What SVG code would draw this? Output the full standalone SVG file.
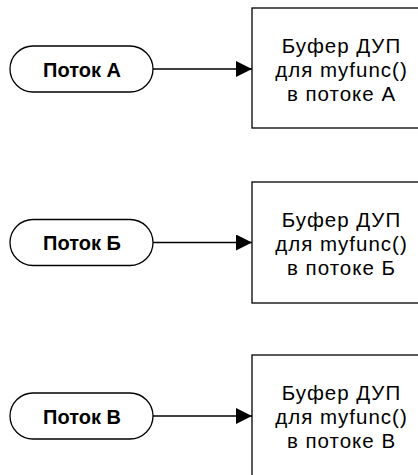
<svg xmlns="http://www.w3.org/2000/svg" width="418" height="475" viewBox="0 0 418 475">
<style>
.pill{fill:#fff;stroke:#000;stroke-width:1.3}
.box{fill:#fff;stroke:#000;stroke-width:1.3}
.lbl{font-family:"Liberation Sans",Arial,sans-serif;font-size:20px;font-weight:bold;text-anchor:middle;fill:#000}
.txt{font-family:"Liberation Sans",Arial,sans-serif;font-size:20.5px;letter-spacing:1px;text-anchor:middle;fill:#000}
.conn{stroke:#000;stroke-width:1.3;fill:none;marker-end:url(#arr)}
</style>
<defs>
<marker id="arr" markerWidth="16" markerHeight="16" refX="16" refY="8" orient="auto" markerUnits="userSpaceOnUse">
<path d="M0,0 L16,8 L0,16 Z" fill="#000"/>
</marker>
</defs>
<rect width="418" height="475" fill="#fff"/>
<g id="connectors">
<line class="conn" x1="153" y1="69" x2="252" y2="69"/>
<line class="conn" x1="153" y1="242.5" x2="252" y2="242.5"/>
<line class="conn" x1="153" y1="416" x2="252" y2="416"/>
</g>
<g id="threadA">
<rect class="pill" x="10" y="46" width="143" height="46" rx="23"/>
<text class="lbl" x="82" y="76.5">Поток А</text>
</g>
<g id="bufferA">
<rect class="box" x="252" y="8" width="180" height="120"/>
<text class="txt" x="341.5" y="53">Буфер ДУП</text>
<text class="txt" x="341.5" y="77">для myfunc()</text>
<text class="txt" x="341.5" y="101">в потоке А</text>
</g>
<g id="threadB">
<rect class="pill" x="10" y="219.5" width="143" height="46" rx="23"/>
<text class="lbl" x="82" y="250">Поток Б</text>
</g>
<g id="bufferB">
<rect class="box" x="252" y="182" width="180" height="121"/>
<text class="txt" x="341.5" y="227">Буфер ДУП</text>
<text class="txt" x="341.5" y="251">для myfunc()</text>
<text class="txt" x="341.5" y="275">в потоке Б</text>
</g>
<g id="threadC">
<rect class="pill" x="10" y="393" width="143" height="46" rx="23"/>
<text class="lbl" x="82" y="423.5">Поток В</text>
</g>
<g id="bufferC">
<rect class="box" x="252" y="355" width="180" height="130"/>
<text class="txt" x="341.5" y="400">Буфер ДУП</text>
<text class="txt" x="341.5" y="424">для myfunc()</text>
<text class="txt" x="341.5" y="448">в потоке В</text>
</g>
</svg>
